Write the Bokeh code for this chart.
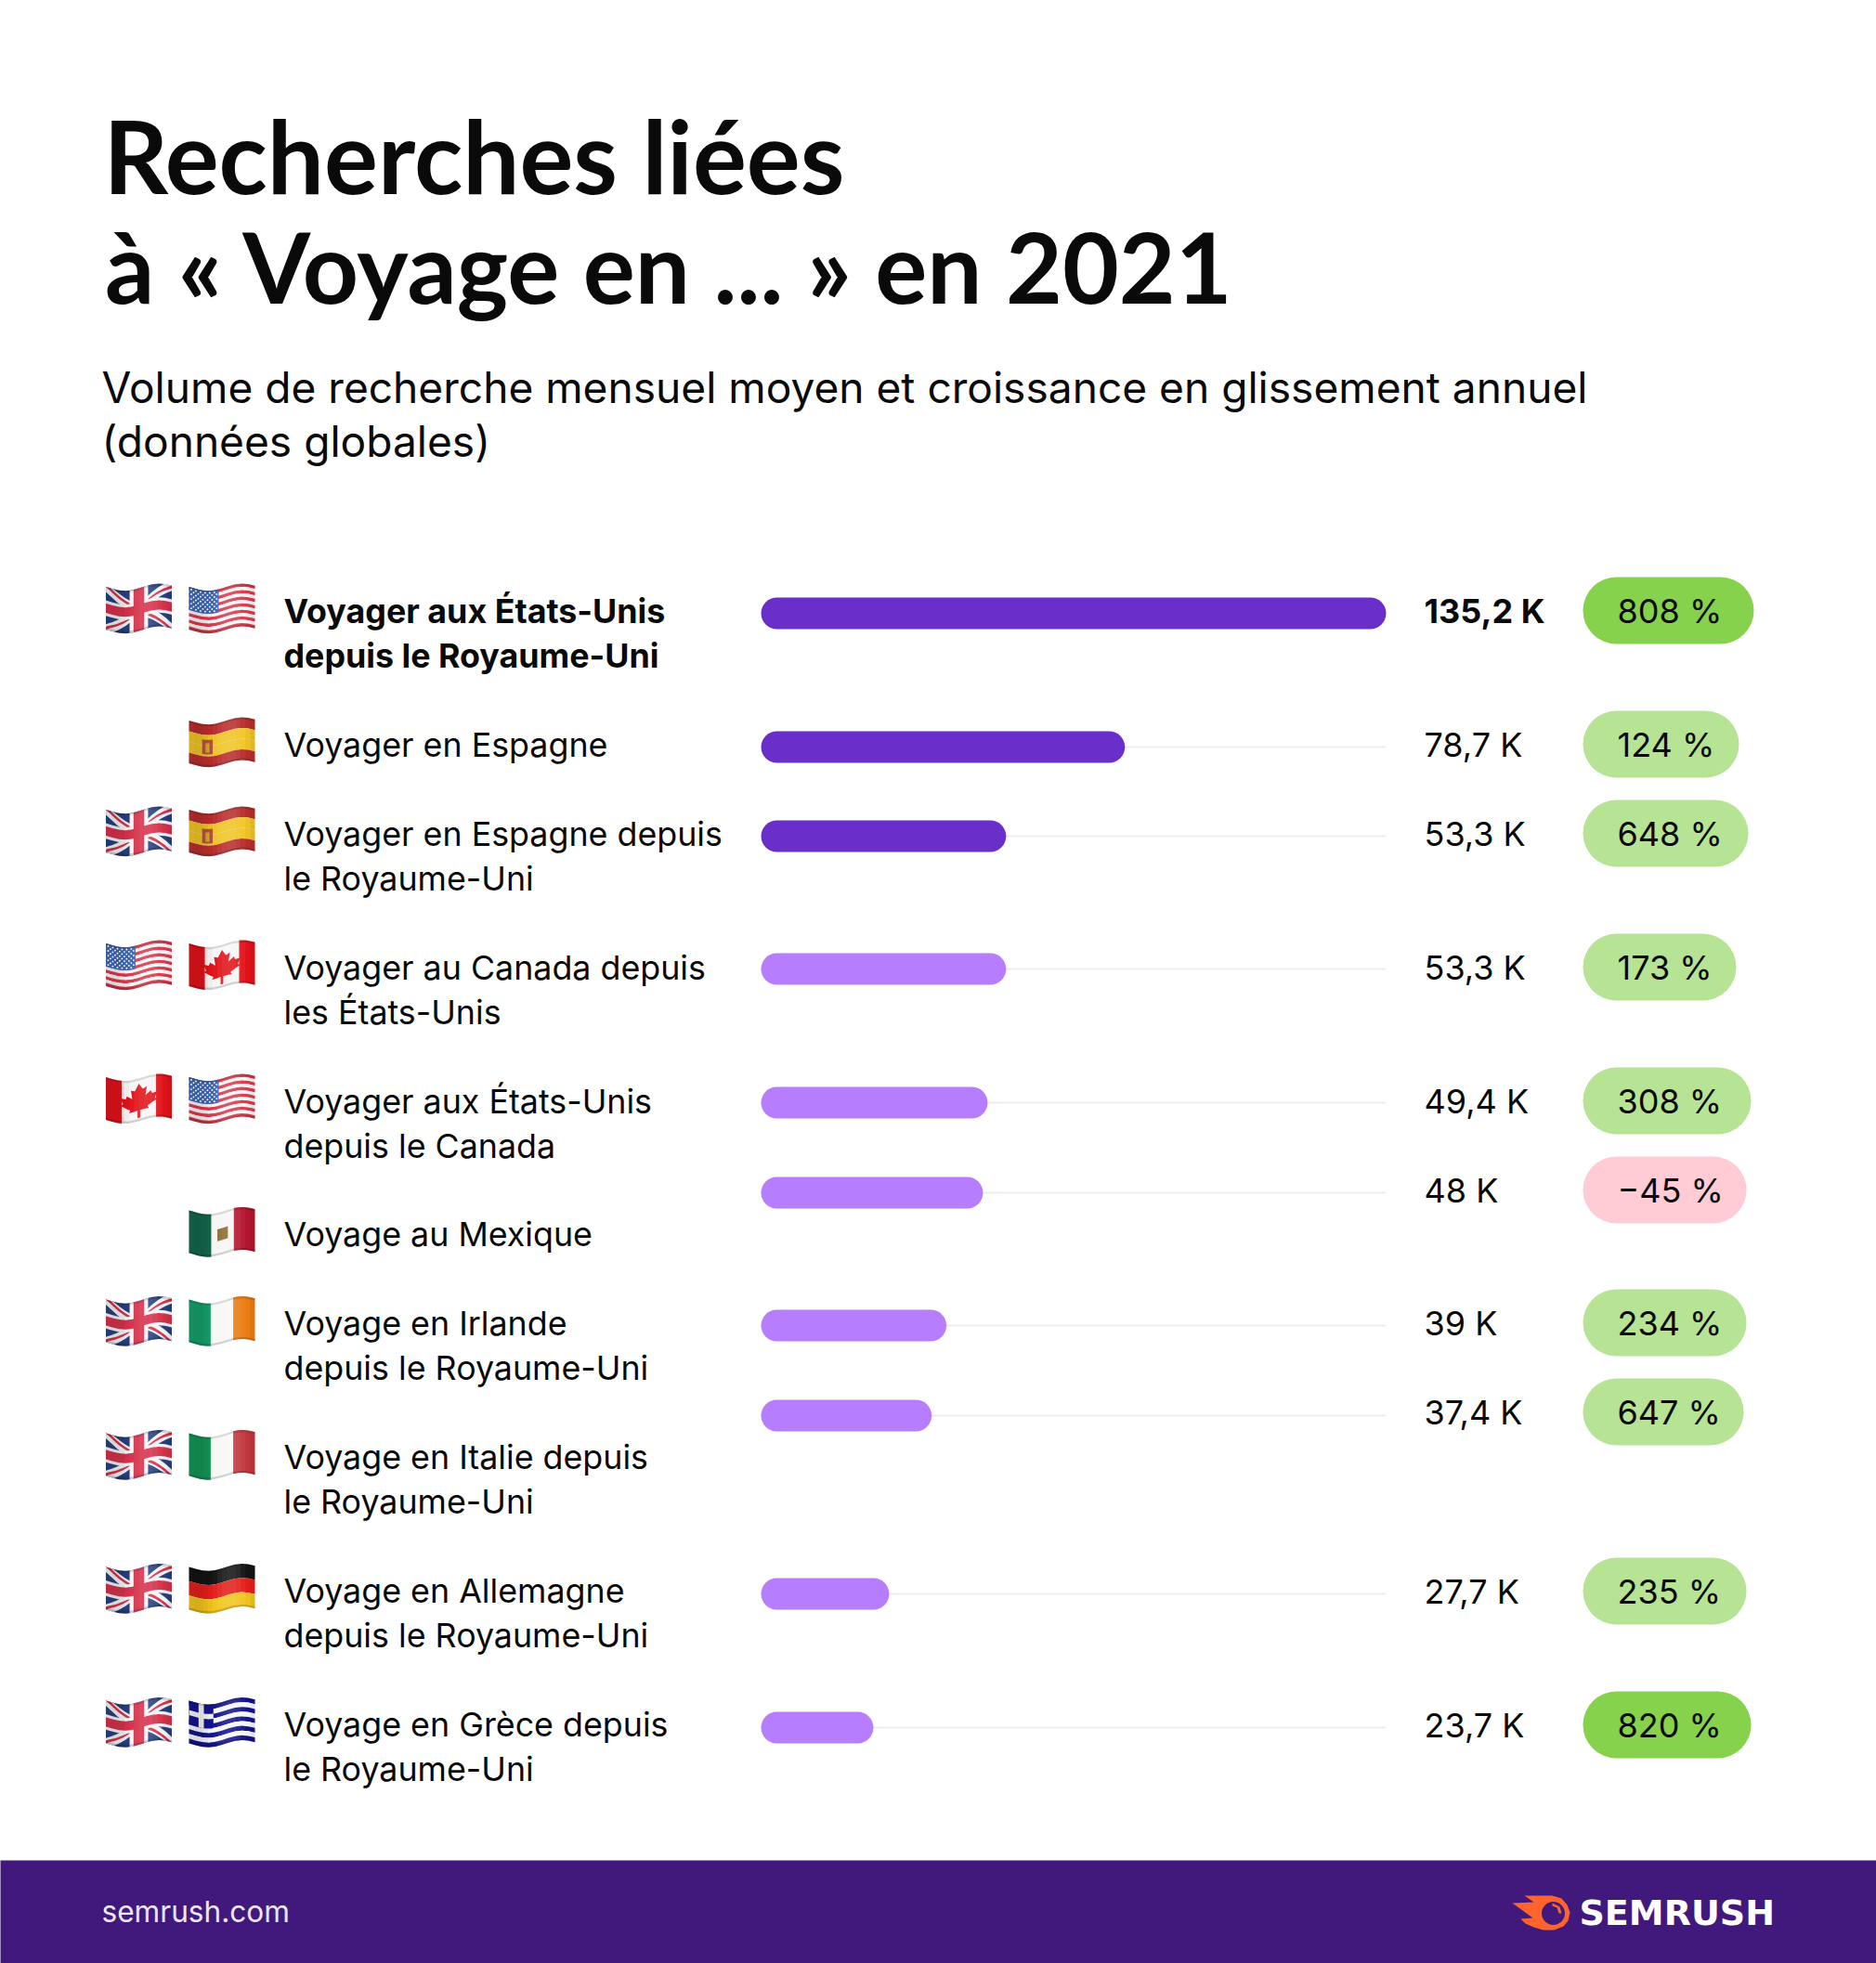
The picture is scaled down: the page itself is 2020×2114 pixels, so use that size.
import math
from bokeh.plotting import figure
from bokeh.models import Range1d, ColumnDataSource
from bokeh.core.properties import value
from bokeh.embed import file_html
from bokeh.resources import INLINE

# ---------- data ----------
title_lines = ["Recherches liées", "à « Voyage en ... » en 2021"]
subtitle_lines = ["Volume de recherche mensuel moyen et croissance en glissement annuel", "(données globales)"]
labels = [
    ["Voyager aux États-Unis", "depuis le Royaume-Uni"],
    ["Voyager en Espagne"],
    ["Voyager en Espagne depuis", "le Royaume-Uni"],
    ["Voyager au Canada depuis", "les États-Unis"],
    ["Voyager aux États-Unis", "depuis le Canada"],
    ["Voyage au Mexique"],
    ["Voyage en Irlande", "depuis le Royaume-Uni"],
    ["Voyage en Italie depuis", "le Royaume-Uni"],
    ["Voyage en Allemagne", "depuis le Royaume-Uni"],
    ["Voyage en Grèce depuis", "le Royaume-Uni"],
]
# bar lengths as drawn in the picture (in thousands); printed labels are below
volumes = [135.2, 78.7, 53.0, 53.0, 49.0, 48.0, 40.1, 36.9, 27.7, 24.3]
volume_labels = ["135,2 K", "78,7 K", "53,3 K", "53,3 K", "49,4 K", "48 K", "39 K", "37,4 K", "27,7 K", "23,7 K"]
growth_labels = ["808 %", "124 %", "648 %", "173 %", "308 %", "−45 %", "234 %", "647 %", "235 %", "820 %"]
growth = [808, 124, 648, 173, 308, -45, 234, 647, 235, 820]
flags_from = ["UK", None, "UK", "US", "CA", None, "UK", "UK", "UK", "UK"]
flags_to = ["US", "ES", "ES", "CA", "US", "MX", "IE", "IT", "DE", "GR"]

# ---------- layout (reference pixels) ----------
W, H = 2020, 2114
OFF = 1  # sub-pixel alignment with the reference
bar_y = [661, 805, 901, 1044, 1188, 1285, 1428, 1525, 1717, 1861]
pill_y = [658, 802, 898, 1042, 1186, 1282, 1425, 1521, 1714, 1858]
label_y = [658, 802, 898, 1042, 1186, 1329.5, 1425.5, 1569.5, 1713.5, 1857.5]
pill_right = [1889, 1873, 1883, 1870, 1886, 1881, 1881, 1878, 1881, 1886]
BAR_X0, BAR_X1 = 820, 1493
k = (BAR_X1 - BAR_X0) / max(volumes)

p = figure(width=W, height=H, output_backend="svg", toolbar_location=None,
           x_range=Range1d(OFF, W + OFF), y_range=Range1d(H + OFF, OFF), min_border=0,
           background_fill_color="white", border_fill_color="white")
p.extra_x_ranges = {"volume": Range1d((OFF - BAR_X0) / k, (W + OFF - BAR_X0) / k)}
p.xaxis.visible = False
p.yaxis.visible = False
p.grid.visible = False
p.outline_line_color = None

INK = "#0a0a0a"


def txt(x, y, s, size, bold=False, color=INK, font="Inter"):
    p.text(x=[x], y=[y], text=[s], text_font=value(font), text_font_size=f"{size}px",
           text_font_style="bold" if bold else "normal", text_color=color,
           text_baseline="middle", text_align="left")


# ---------- headings ----------
txt(112, 167, title_lines[0], 108.5, True, font="Lato")
txt(113.5, 286, title_lines[1], 105, True, font="Lato")
txt(110, 417, subtitle_lines[0], 46.1)
txt(110, 475, subtitle_lines[1], 46.1)

# ---------- tracks, bars ----------
bar_colors = ["#6B2FC9"] * 3 + ["#B77DFF"] * 7
src = ColumnDataSource(dict(y=bar_y, v=volumes, zero=[0] * 10, top=[max(volumes)] * 10, c=bar_colors))
p.hbar(y="y", left="zero", right="top", height=2, source=src, x_range_name="volume",
       fill_color="#EFECF0", line_color=None)
p.hbar(y="y", left="zero", right="v", height=34, source=src, x_range_name="volume",
       fill_color="c", line_color=None, border_radius=17)

# ---------- pills ----------
pill_colors = []
for g in growth:
    pill_colors.append("#FFCBD5" if g < 0 else "#87D24C" if g >= 800 else "#B6E394")
p.hbar(y=pill_y, left=[1705] * 10, right=pill_right, height=72, fill_color=pill_colors,
       line_color=None, border_radius=36)

# ---------- row texts ----------
for i in range(10):
    bold = i == 0
    for j, line in enumerate(labels[i]):
        txt(306, label_y[i] + j * 48, line, 35.8, bold)
    txt(1534, pill_y[i], volume_labels[i], 36, bold)
    txt(1742, pill_y[i], growth_labels[i], 36)


# ---------- flags ----------
def wave(u):
    return 3.6 * math.cos(2 * math.pi * (u - 0.3)) - 1.2 * u


FW, FH = 71.0, 46.0


def to_xy(poly, x0, cy, w=FW, h=FH, steps=10):
    xs, ys = [], []
    n = len(poly)
    for a in range(n):
        u0, v0 = poly[a]
        u1, v1 = poly[(a + 1) % n]
        for s in range(steps):
            t = s / steps
            u, v = u0 + (u1 - u0) * t, v0 + (v1 - v0) * t
            xs.append(x0 + u * w)
            ys.append(cy - h / 2 + v * h + wave(u))
    return xs, ys


def rect(a, b, c, d):
    return [(a, c), (b, c), (b, d), (a, d)]


def stripes(cols):
    n = len(cols)
    return [(rect(0, 1, i / n, (i + 1) / n), c) for i, c in enumerate(cols)]


UK_BLUE, UK_RED = "#27407F", "#D5324B"
maple = [(.5, .12), (.56, .27), (.62, .24), (.6, .44), (.68, .36), (.7, .43), (.78, .41), (.74, .55), (.78, .58),
         (.63, .7), (.65, .76), (.52, .74), (.52, .92), (.48, .92), (.48, .74), (.35, .76), (.37, .7), (.22, .58),
         (.26, .55), (.22, .41), (.3, .43), (.32, .36), (.4, .44), (.38, .24), (.44, .27)]
FLAGS = {
    "UK": [(rect(0, 1, 0, 1), UK_BLUE),
           ([(0, 0), (.12, 0), (1, .88), (1, 1), (.88, 1), (0, .12)], "#F4F4F6"),
           ([(1, 0), (1, .12), (.12, 1), (0, 1), (0, .88), (.88, 0)], "#F4F4F6"),
           ([(0, 0), (.07, 0), (.42, .35), (.35, .35)], UK_RED),
           ([(1, 1), (.93, 1), (.58, .65), (.65, .65)], UK_RED),
           ([(1, 0), (1, .07), (.65, .35), (.6, .35)], UK_RED),
           ([(0, 1), (0, .93), (.35, .65), (.4, .65)], UK_RED),
           (rect(.36, .64, 0, 1), "#F4F4F6"), (rect(0, 1, .32, .68), "#F4F4F6"),
           (rect(.42, .58, 0, 1), UK_RED), (rect(0, 1, .39, .61), UK_RED)],
    "US": stripes(["#DB3A4C" if i % 2 == 0 else "#F7F5F6" for i in range(13)]) + [(rect(0, .45, 0, .54), "#3F68B5")],
    "ES": stripes(["#B92E2D", "#F0C526", "#F0C526", "#B92E2D"]) +
          [(rect(.2, .36, .36, .7), "#B5533A"), (rect(.25, .31, .44, .66), "#D9A33A")],
    "CA": [(rect(0, 1, 0, 1), "#F7F5F5"), (rect(0, .24, 0, 1), "#E2141B"), (rect(.76, 1, 0, 1), "#E2141B"),
           (maple, "#E2141B")],
    "MX": [(rect(0, .34, 0, 1), "#14684E"), (rect(.34, .68, 0, 1), "#F6F6F4"), (rect(.68, 1, 0, 1), "#B5162F"),
           (rect(.43, .59, .38, .66), "#8C6B35")],
    "IE": [(rect(0, .33, 0, 1), "#17A06B"), (rect(.33, .67, 0, 1), "#F8F8F6"), (rect(.67, 1, 0, 1), "#EC7D13")],
    "IT": [(rect(0, .33, 0, 1), "#159456"), (rect(.33, .67, 0, 1), "#F8F8F6"), (rect(.67, 1, 0, 1), "#C2383F")],
    "DE": stripes(["#141414", "#E4201B", "#F2C51E"]),
    "GR": stripes(["#14148E" if i % 2 == 0 else "#F6F6F8" for i in range(9)]) +
          [(rect(0, .37, 0, .56), "#14148E"), (rect(.145, .225, 0, .56), "#F6F6F8"), (rect(0, .37, .22, .34), "#F6F6F8")],
}

fx, fy, fc, fa = [], [], [], []
dx, dy = [], []


def flag(code, x0, cy):
    for poly, col in FLAGS[code]:
        xs, ys = to_xy(poly, x0, cy)
        fx.append(xs); fy.append(ys); fc.append(col); fa.append(1.0)
    # sheen along the folds
    N = 14
    for i in range(N):
        u0, u1 = i / N, (i + 1) / N
        mid = (u0 + u1) / 2
        s = math.cos(2 * math.pi * (mid - 0.62))
        xs, ys = to_xy(rect(u0, u1, 0, 1), x0, cy, steps=3)
        fx.append(xs); fy.append(ys)
        fc.append("#ffffff" if s > 0 else "#000000")
        fa.append(0.13 * abs(s) if s > 0 else 0.12 * abs(s))
    # soft lower/upper rim
    for a, b, al in [(0, .05, .12), (.95, 1, .16)]:
        xs, ys = to_xy(rect(0, 1, a, b), x0, cy, steps=6)
        fx.append(xs); fy.append(ys); fc.append("#000000"); fa.append(al)
    if code == "US":
        for r in range(9):
            for c in range(6):
                u = .035 + c * .07 + (.035 if r % 2 else 0)
                v = .05 + r * .055
                dx.append(x0 + u * FW); dy.append(cy - FH / 2 + v * FH + wave(u))


for i in range(10):
    cy = label_y[i] - 1.5
    if flags_from[i]:
        flag(flags_from[i], 114.5, cy)
    flag(flags_to[i], 204, cy)

p.patches(xs=fx, ys=fy, fill_color=fc, fill_alpha=fa, line_color=None)
p.scatter(x=dx, y=dy, size=1.8, fill_color="#ffffff", line_color=None)

# ---------- footer ----------
FOOT = "#41197C"
p.quad(left=[0], right=[W + 2], top=[2004], bottom=[H + 2], fill_color=FOOT, line_color=None)
txt(110, 2059, "semrush.com", 31.6, color="#EDE6F5")

# Semrush logo
flame = [(1642, 2042), (1672, 2042), (1682, 2045), (1688, 2052), (1691, 2060), (1689, 2069), (1684, 2075), (1674, 2079),
         (1662, 2079), (1652, 2076), (1643, 2072), (1638, 2067), (1651, 2066), (1640, 2058), (1629, 2050), (1652, 2049)]
p.patch(x=[q[0] for q in flame], y=[q[1] for q in flame], fill_color="#FF642D", line_color=None)
p.ellipse(x=[1673], y=[2061], width=25, height=25, fill_color=FOOT, line_color=None)
arc_pts = [(1672, 2050), (1680, 2054), (1682, 2061), (1679, 2061), (1677, 2055), (1672, 2053)]
p.patch(x=[q[0] for q in arc_pts], y=[q[1] for q in arc_pts], fill_color="#FF642D", line_color=None)
txt(1701, 2060, "SEMRUSH", 38, True, "#FFFFFF", "DejaVu Sans")

open("out.html", "w").write(file_html(p, INLINE))
